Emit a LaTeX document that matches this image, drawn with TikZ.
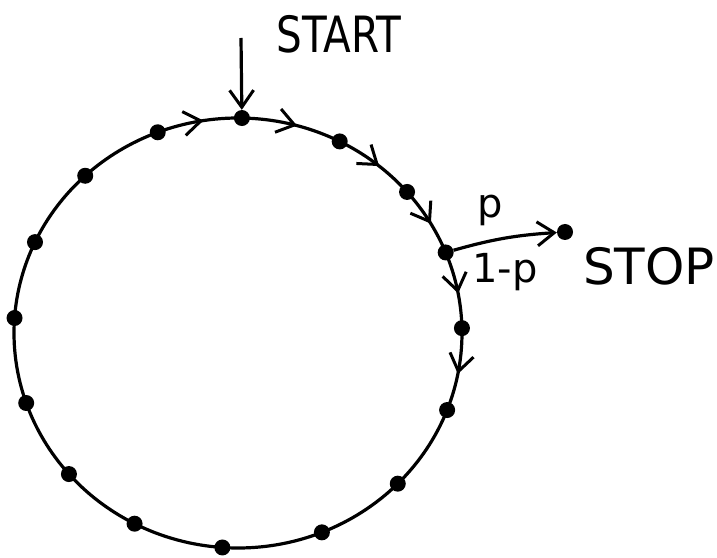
\documentclass[tikz,border=0pt]{standalone}
\usepackage{fontspec}
\setmainfont{DejaVu Sans}
\usetikzlibrary{
  positioning,
  arrows.meta,
  calc,
  decorations.markings
}
\tikzset{
  >={Straight Barb[length=17pt,width=24pt,line width=3pt]},
  loopline/.style={line width=3.2pt},
  midarrow/.style={loopline,postaction={decorate},
    decoration={markings,mark=at position 0.55 with {\arrow{>}}}},
  station/.style={circle,fill,inner sep=0pt,minimum size=16pt},
  lettering/.style={font=\fontsize{50}{50}\selectfont},
  prob/.style={font=\fontsize{40}{40}\selectfont}
}

\begin{document}
\begin{tikzpicture}[x=1pt,y=1pt]
    \useasboundingbox (0,0) rectangle (717,557);
    \coordinate (c) at (238,224);

    % stations on the loop
    \foreach \a [count=\i] in {89,63,41,22,1.3,-21,-44.5,-68,-94,-117.5,-139,-161,-184,-205,-227,-249}
        \node[station] (d\i) at ($(c)+(\a:224 and 215)$) {};

    % the loop, clockwise
    \foreach \i/\a/\b/\s in {1/89/63/midarrow,2/63/41/midarrow,3/41/22/midarrow,4/22/1.3/midarrow,
        5/1.3/-21/midarrow,6/-21/-44.5/loopline,7/-44.5/-68/loopline,8/-68/-94/loopline,
        9/-94/-117.5/loopline,10/-117.5/-139/loopline,11/-139/-161/loopline,12/-161/-184/loopline,
        13/-184/-205/loopline,14/-205/-227/loopline,15/-227/-249/loopline,16/-249/-271/midarrow}
        \draw[\s] (d\i.center) arc[start angle=\a,end angle=\b,x radius=224,y radius=215];

    \coordinate (startin) at (241,519);
    \node[station] (stopdot) at (565,325) {};
    \draw[loopline,->] (startin) -- (d1);
    \draw[loopline,->] (d4) to[bend left=6] (stopdot);

    \node[lettering,anchor=base,xscale=0.81,transform shape] (lstart) at (339,504) {START};
    \node[lettering,anchor=base] (lstop) at (649,272) {STOP};
    \node[prob,anchor=base] (lp) at (490,339) {p};
    \node[prob,anchor=base] (lnotp) at (505,274) {1-p};
\end{tikzpicture}
\end{document}
